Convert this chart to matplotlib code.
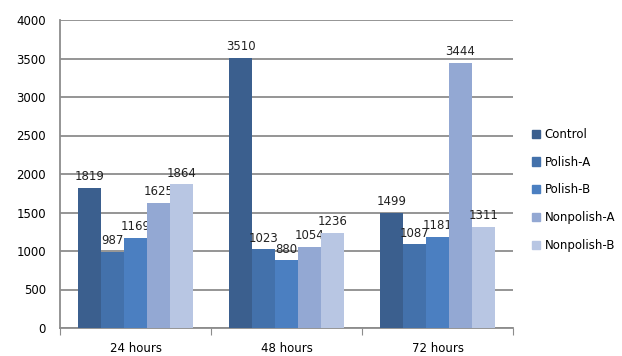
import numpy as np
import matplotlib
matplotlib.use("Agg")
import matplotlib.pyplot as plt
from matplotlib.patches import Patch

categories = ["24 hours", "48 hours", "72 hours"]
series = ["Control", "Polish-A", "Polish-B", "Nonpolish-A", "Nonpolish-B"]
values = {
    "Control":     [1819, 3510, 1499],
    "Polish-A":    [987, 1023, 1087],
    "Polish-B":    [1169, 880, 1181],
    "Nonpolish-A": [1625, 1054, 3444],
    "Nonpolish-B": [1864, 1236, 1311],
}
colors = ["#3b5f8e", "#4371ab", "#4b7fc1", "#93a8d3", "#b8c6e3"]
yticks = [0, 500, 1000, 1500, 2000, 2500, 3000, 3500, 4000]

plt.rcParams["font.family"] = ["DejaVu Sans"]

fig = plt.figure(figsize=(6.22, 3.56), dpi=100)
ax = fig.add_axes([60 / 622, 28 / 356, 453 / 622, 308 / 356])

x = np.arange(len(categories))
w = 0.152
for i, (name, c) in enumerate(zip(series, colors)):
    pos = x + (i - 2) * w
    ax.bar(pos, values[name], width=w, color=c, zorder=3)
    for px, v in zip(pos, values[name]):
        ax.text(px, v + 60, str(v), ha="center", va="bottom", fontsize=8.5, color="#222222")

ax.set_xlim(-0.5, 2.5)
ax.set_ylim(0, 4000)
ax.set_yticks(yticks)
ax.tick_params(axis="y", length=0, labelsize=8.5, pad=10)
ax.yaxis.grid(True, color="#8c8c8c", lw=1.3, zorder=0)

ax.set_xticks([-0.5, 0.5, 1.5, 2.5])
ax.set_xticklabels([])
ax.set_xticks(x, minor=True)
ax.set_xticklabels(categories, minor=True, fontsize=8.5)
ax.tick_params(axis="x", which="major", length=5, color="#8c8c8c", direction="out")
ax.tick_params(axis="x", which="minor", length=0, pad=10)

for s in ["top", "right"]:
    ax.spines[s].set_visible(False)
for s in ["left", "bottom"]:
    ax.spines[s].set_color("#8c8c8c")
    ax.spines[s].set_linewidth(1.3)

handles = [Patch(color=c, label=n) for n, c in zip(series, colors)]
fig.legend(handles=handles, loc="center left", bbox_to_anchor=(527 / 622, 1 - 190 / 356),
           frameon=False, fontsize=8.5, handlelength=0.7, handleheight=0.7,
           labelspacing=1.25, handletextpad=0.4, borderaxespad=0)

fig.savefig("out.png", dpi=100)
